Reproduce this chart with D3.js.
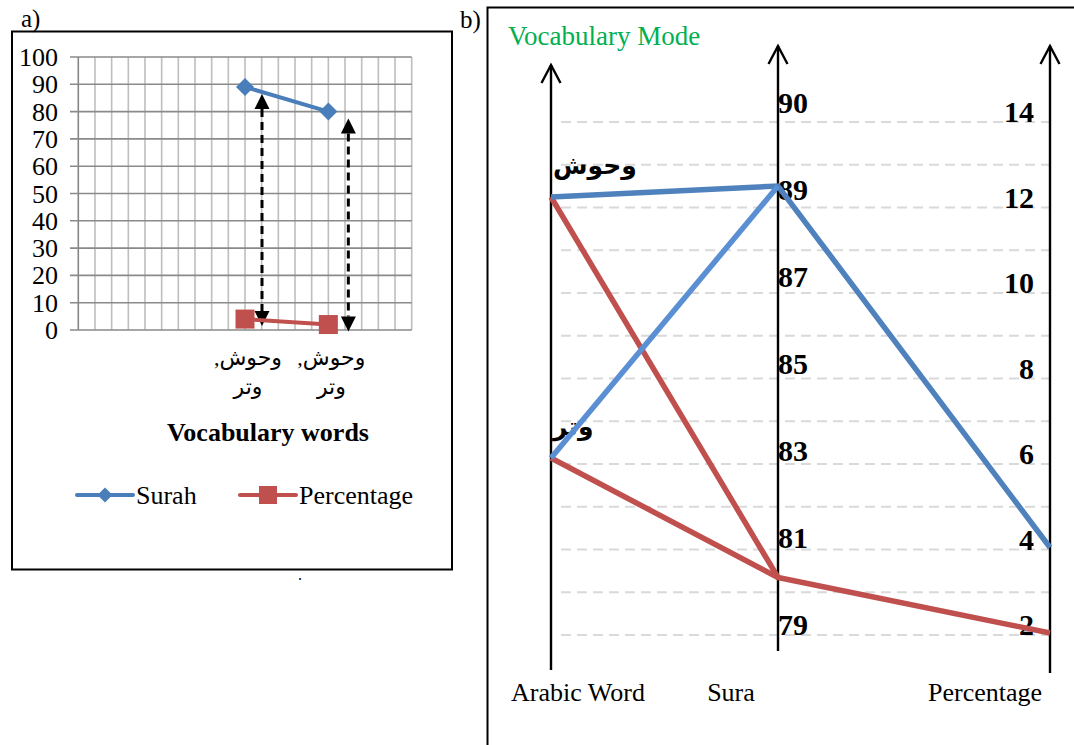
<!DOCTYPE html>
<html>
<head>
<meta charset="utf-8">
<script src="https://cdn.jsdelivr.net/npm/d3@7"></script>
<style>
  html, body { margin: 0; padding: 0; background: #fff; }
  svg { display: block; }
  text { font-family: "Liberation Serif", "Times New Roman", "DejaVu Sans", serif; }
</style>
</head>
<body>
<svg id="chart" width="1074" height="745"></svg>
<script>
// ---- Panel a: line chart data ----
const categoriesA = ["", "", "وحوش, وتر", "وحوش, وتر", ""];
const surahA = [null, null, 89, 80, null];
const percentageA = [null, null, 4, 2, null];
const yTicksA = [0, 10, 20, 30, 40, 50, 60, 70, 80, 90, 100];
const legendA = ["Surah", "Percentage"];

// ---- Panel b: parallel axes data ----
const dimsB = ["Arabic Word", "Sura", "Percentage"];
const arabicWords = ["وحوش", "وتر"];
const suraTicks = [90, 89, 87, 85, 83, 81, 79];
const percentTicks = [14, 12, 10, 8, 6, 4, 2];
const suraValues = [89, 80];
const percentValues = [4, 2];

const BLUE = "#4F81BD", BLUE_LIGHT = "#5A8FD4", RED = "#C0504D";

const svg = d3.select("#chart");
svg.append("rect").attr("width", 1074).attr("height", 745).attr("fill", "#fff");

/* ================= Panel a ================= */
const gA = svg.append("g");
gA.append("text").attr("x", 21).attr("y", 27).attr("font-size", 25).text("a)");
gA.append("rect").attr("x", 12).attr("y", 31.5).attr("width", 440).attr("height", 538)
  .attr("fill", "none").attr("stroke", "#000").attr("stroke-width", 2);

const xA = d3.scaleLinear().domain([0, categoriesA.length - 1]).range([78.3, 411.7]);
const yA = d3.scaleLinear().domain([0, 100]).range([330, 57]);

// vertical minor grid (5 columns per category step)
const vGrid = d3.range(0, (categoriesA.length - 1) * 5 + 1).map(i => i / 5);
gA.append("g").selectAll("line").data(vGrid).join("line")
  .attr("x1", d => xA(d)).attr("x2", d => xA(d))
  .attr("y1", yA(100)).attr("y2", yA(0))
  .attr("stroke", (d, i) => i === 0 ? "#868686" : "#BEBEBE").attr("stroke-width", 1.6);

// horizontal grid with tick stubs
gA.append("g").selectAll("line").data(yTicksA).join("line")
  .attr("x1", 70).attr("x2", xA(categoriesA.length - 1))
  .attr("y1", d => yA(d)).attr("y2", d => yA(d))
  .attr("stroke", "#8A8A8A").attr("stroke-width", 1.6);

gA.append("g").selectAll("text").data(yTicksA).join("text")
  .attr("x", 58).attr("y", d => yA(d) + 9).attr("text-anchor", "end")
  .attr("font-size", 26).text(d => d);

// category labels (wrapped onto two lines)
categoriesA.forEach((c, i) => {
  if (!c) return;
  const parts = c.split(" ");
  const t = gA.append("text").attr("text-anchor", "middle").attr("font-size", 22)
    .attr("font-family", "'DejaVu Sans', sans-serif");
  parts.forEach((p, k) => {
    t.append("tspan").attr("x", xA(i) + 3).attr("y", 365 + k * 29).text(p + "\u200F");
  });
});

gA.append("text").attr("x", 268).attr("y", 441).attr("text-anchor", "middle")
  .attr("font-size", 26).attr("font-weight", "bold").text("Vocabulary words");

// difference arrows between the two series
const arrowData = surahA.map((s, i) => ({ i, s, p: percentageA[i] })).filter(d => d.s != null);
const ah = 15, aw = 7.5;
arrowData.forEach((d, k) => {
  const x = xA(d.i) + 17 + k * 3;
  const top = yA(d.s) + 7, bot = yA(d.p) + 7;
  gA.append("line").attr("x1", x).attr("x2", x).attr("y1", top + ah).attr("y2", bot - ah)
    .attr("stroke", "#000").attr("stroke-width", 3).attr("stroke-dasharray", "8,5");
  gA.append("path").attr("d", `M${x},${top}L${x - aw},${top + ah}L${x + aw},${top + ah}Z`).attr("fill", "#000");
  gA.append("path").attr("d", `M${x},${bot}L${x - aw},${bot - ah}L${x + aw},${bot - ah}Z`).attr("fill", "#000");
});

// series lines and markers
const lineA = d3.line().defined(d => d.v != null).x(d => xA(d.i)).y(d => yA(d.v));
const pctPts = percentageA.map((v, i) => ({ i, v }));
const surPts = surahA.map((v, i) => ({ i, v }));
gA.append("path").datum(pctPts).attr("d", lineA).attr("fill", "none")
  .attr("stroke", RED).attr("stroke-width", 4);
gA.append("g").selectAll("rect").data(pctPts.filter(d => d.v != null)).join("rect")
  .attr("x", d => xA(d.i) - 9.5).attr("y", d => yA(d.v) - 9.5)
  .attr("width", 19).attr("height", 19).attr("fill", RED);
gA.append("path").datum(surPts).attr("d", lineA).attr("fill", "none")
  .attr("stroke", "#4A7EBB").attr("stroke-width", 4);
const diamond = (cx, cy, r) => `M${cx},${cy - r}L${cx + r},${cy}L${cx},${cy + r}L${cx - r},${cy}Z`;
gA.append("g").selectAll("path").data(surPts.filter(d => d.v != null)).join("path")
  .attr("d", d => diamond(xA(d.i), yA(d.v), 9)).attr("fill", "#4A7EBB");

// legend
const legY = 495;
const legItems = [
  { name: legendA[0], x0: 77, color: "#4A7EBB", shape: "diamond" },
  { name: legendA[1], x0: 240, color: RED, shape: "square" }
];
legItems.forEach(d => {
  gA.append("line").attr("x1", d.x0).attr("x2", d.x0 + 56).attr("y1", legY).attr("y2", legY)
    .attr("stroke", d.color).attr("stroke-width", 4).attr("stroke-linecap", "round");
  if (d.shape === "diamond") {
    gA.append("path").attr("d", diamond(d.x0 + 28, legY, 7.5)).attr("fill", d.color);
  } else {
    gA.append("rect").attr("x", d.x0 + 19).attr("y", legY - 9).attr("width", 18).attr("height", 18).attr("fill", d.color);
  }
  gA.append("text").attr("x", d.x0 + 59).attr("y", legY + 9).attr("font-size", 26).text(d.name);
});

svg.append("text").attr("x", 298).attr("y", 580).attr("font-size", 16).text(".");

/* ================= Panel b ================= */
const gB = svg.append("g");
gB.append("text").attr("x", 460).attr("y", 28).attr("font-size", 25).text("b)");
gB.append("path").attr("d", "M487.5,745V7.5H1074").attr("fill", "none")
  .attr("stroke", "#000").attr("stroke-width", 2);
gB.append("text").attr("x", 508).attr("y", 45).attr("font-size", 27)
  .attr("fill", "#00B050").text("Vocabulary Mode");

const xB = d3.scaleOrdinal().domain(dimsB).range([551, 778, 1050]);
const axisTop = d3.scaleOrdinal().domain(dimsB).range([65, 46, 46]);
const axisBot = d3.scaleOrdinal().domain(dimsB).range([670, 651, 673]);
const titleX = d3.scaleOrdinal().domain(dimsB).range([578, 731, 985]);

const yWord = d3.scalePoint().domain(arabicWords).range([197, 458]);
const suraStep = 87, suraTop = 99;
const ySura = d3.scaleLinear().domain(suraTicks).range(suraTicks.map((d, i) => suraTop + i * suraStep));
const yPct = d3.scaleLinear().domain([2, 14]).range([633, 120]);

// light dashed guide rows
const rows = d3.range(13);
const yRow = d3.scaleLinear().domain([0, 12]).range([122, 635]);
gB.append("g").selectAll("line").data(rows).join("line")
  .attr("x1", 561).attr("x2", 1050)
  .attr("y1", d => yRow(d)).attr("y2", d => yRow(d))
  .attr("stroke", "#D9D9D9").attr("stroke-width", 2.2).attr("stroke-dasharray", "10,6");

// tick labels
gB.append("g").selectAll("text").data(suraTicks).join("text")
  .attr("x", 778).attr("y", d => ySura(d) + 14).attr("font-size", 30).attr("font-weight", "bold")
  .text(d => d);
gB.append("g").selectAll("text").data(percentTicks).join("text")
  .attr("x", 1034).attr("y", d => yPct(d) + 2).attr("text-anchor", "end")
  .attr("font-size", 30).attr("font-weight", "bold").text(d => d);
gB.append("g").selectAll("text").data(arabicWords).join("text")
  .attr("x", 553).attr("y", d => yWord(d) - 23)
  .attr("font-family", "'DejaVu Sans', sans-serif")
  .attr("font-size", 25).attr("font-weight", "bold").text(d => d);

// axes with open arrowheads
dimsB.forEach(dim => {
  const x = xB(dim), t = axisTop(dim), b = axisBot(dim);
  gB.append("line").attr("x1", x).attr("x2", x).attr("y1", t).attr("y2", b)
    .attr("stroke", "#000").attr("stroke-width", 2.4);
  gB.append("path").attr("d", `M${x - 9.5},${t + 18}L${x},${t}L${x + 9.5},${t + 18}`)
    .attr("fill", "none").attr("stroke", "#000").attr("stroke-width", 2.4);
});
gB.append("g").selectAll("text").data(dimsB).join("text")
  .attr("x", d => titleX(d)).attr("y", 701).attr("text-anchor", "middle")
  .attr("font-size", 26).text(d => d);

// connecting polylines: red (second value) drawn beneath blue (first value)
const colorsB = [BLUE, RED];
[1, 0].forEach(j => {
  const sx = xB("Sura"), sy = ySura(suraValues[j]);
  arabicWords.forEach((w, k) => {
    const pts = [[xB("Arabic Word"), yWord(w)], [sx, sy]];
    if (k === 0) pts.push([xB("Percentage"), yPct(percentValues[j])]);
    gB.append("path").attr("d", d3.line()(pts)).attr("fill", "none")
      .attr("stroke", j === 0 && k === 1 ? BLUE_LIGHT : colorsB[j])
      .attr("stroke-width", 5.5).attr("stroke-linejoin", "miter");
  });
});
</script>
</body>
</html>
